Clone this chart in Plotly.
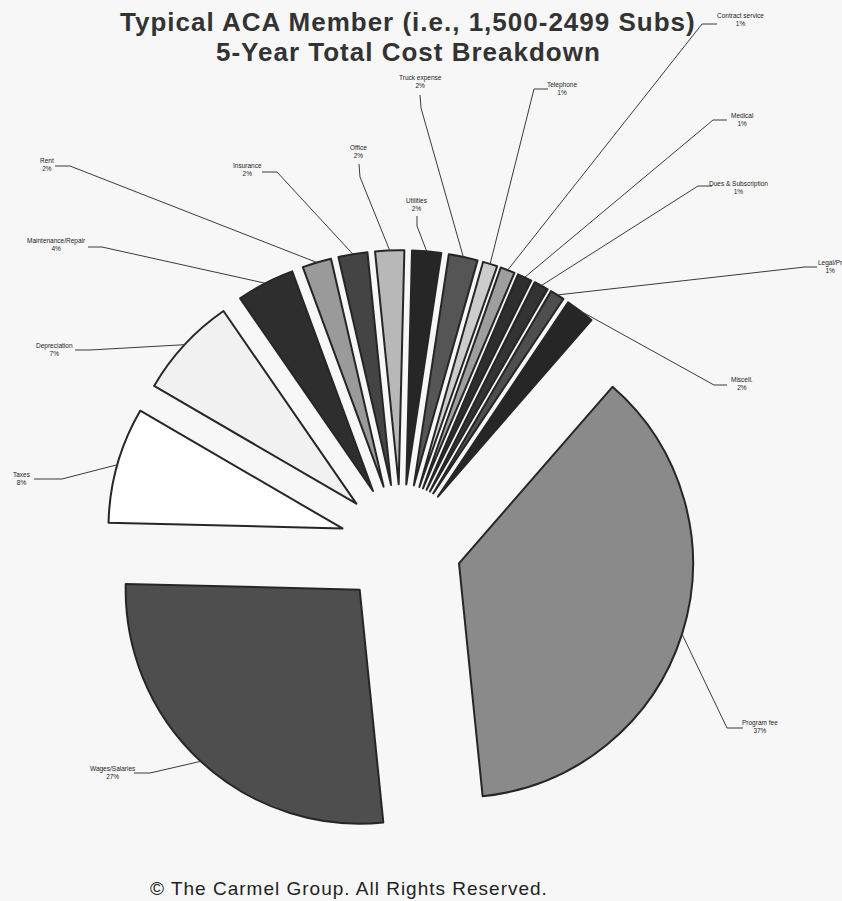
import math
import plotly.graph_objects as go

# ---------------- data ----------------
categories = ["Program fee", "Wages/Salaries", "Taxes", "Depreciation",
              "Maintenance/Repair", "Rent", "Insurance", "Office", "Utilities",
              "Truck expense", "Telephone", "Contract service", "Medical",
              "Dues & Subscription", "Legal/Pr", "Miscell."]
percents = [37, 27, 8, 7, 4, 2, 2, 2, 2, 2, 1, 1, 1, 1, 1, 2]

title_lines = ["Typical ACA Member (i.e., 1,500-2499 Subs)", "5-Year Total Cost Breakdown"]
footer_text = "© The Carmel Group. All Rights Reserved."

# ---------------- styles ----------------
colors = ["#8a8a8a", "#4e4e4e", "#ffffff", "#f1f1f1", "#2e2e2e", "#9a9a9a",
          "#444444", "#b8b8b8", "#262626", "#555555", "#cccccc", "#9e9e9e",
          "#2e2e2e", "#333333", "#4e4e4e", "#262626"]

W, H = 842, 901
CX, CY = 401, 545          # pie centre (px)
R = 234                    # slice radius (px)
PULL = 0.26                # explode fraction
ROT = 41                   # start angle of first slice (deg clockwise from 12)

# label layout in px: text centre, start of leader, elbow of leader
label_layout = [
    (760, 726, 743, 728, 727, 728),
    (113, 772, 134, 773, 150, 773),
    (22, 478, 34, 479, 62, 479),
    (55, 349, 75, 350, 90, 350),
    (56, 244, 88, 247, 102, 247),
    (47, 164, 55, 166, 70, 166),
    (248, 170, 262, 172, 277, 172),
    (358, 152, 359, 164, 360, 177),
    (417, 205, 417, 216, 417, 226),
    (420, 82, 420, 95, 421, 108),
    (562, 88, 548, 89, 534, 89),
    (740, 19, 717, 24, 702, 24),
    (742, 120, 727, 120, 713, 120),
    (738, 188, 712, 186, 698, 186),
    (830, 266, 817, 267, 805, 267),
    (742, 383, 727, 385, 714, 385),
]

box = R * (1 + PULL)
dom_x = [(CX - box) / W, (CX + box) / W]
dom_y = [1 - (CY + box) / H, 1 - (CY - box) / H]

fig = go.Figure(go.Pie(
    labels=categories, values=percents, sort=False, direction="clockwise",
    rotation=ROT, pull=[PULL] * len(percents),
    marker=dict(colors=colors, line=dict(color="#262626", width=2)),
    textinfo="none", hoverinfo="label+percent", showlegend=False,
    domain=dict(x=dom_x, y=dom_y),
))

def px(x):
    return x / W

def py(y):
    return 1 - y / H

total = sum(percents)
cum = ROT
shapes = []
annotations = []
for name, v, lay in zip(categories, percents, label_layout):
    mid = cum + v / total * 180.0
    cum += v / total * 360.0
    a = math.radians(mid)
    ax = CX + box * math.sin(a)
    ay = CY - box * math.cos(a)
    tx, ty, sx, sy, ex, ey = lay
    shapes.append(dict(
        type="path", xref="paper", yref="paper",
        path=f"M {px(sx)},{py(sy)} L {px(ex)},{py(ey)} L {px(ax)},{py(ay)}",
        line=dict(color="#3a3a3a", width=1),
    ))
    annotations.append(dict(
        x=px(tx), y=py(ty), xref="paper", yref="paper",
        text=f"{name}<br>{v}%", showarrow=False, xanchor="center", yanchor="middle",
        align="center", font=dict(family="Liberation Sans, Arial", size=6.5, color="#222222"),
    ))

for line, ty in zip(title_lines, [22, 52]):
    annotations.append(dict(
        x=px(408), y=py(ty), xref="paper", yref="paper", showarrow=False,
        xanchor="center", yanchor="middle",
        text=f"<span style='letter-spacing:1px'><b>{line}</b></span>",
        font=dict(family="Liberation Sans, Arial", size=26, color="#333333"),
    ))
annotations.append(dict(
    x=px(349), y=py(888), xref="paper", yref="paper", showarrow=False,
    xanchor="center", yanchor="middle",
    text=f"<span style='letter-spacing:1px'>{footer_text}</span>",
    font=dict(family="Liberation Sans, Arial", size=19, color="#222222"),
))

fig.update_layout(
    width=W, height=H, margin=dict(l=0, r=0, t=0, b=0),
    paper_bgcolor="#f7f7f7", plot_bgcolor="#f7f7f7",
    shapes=shapes, annotations=annotations,
)

fig.write_html("out.html", config={"displayModeBar": False})
